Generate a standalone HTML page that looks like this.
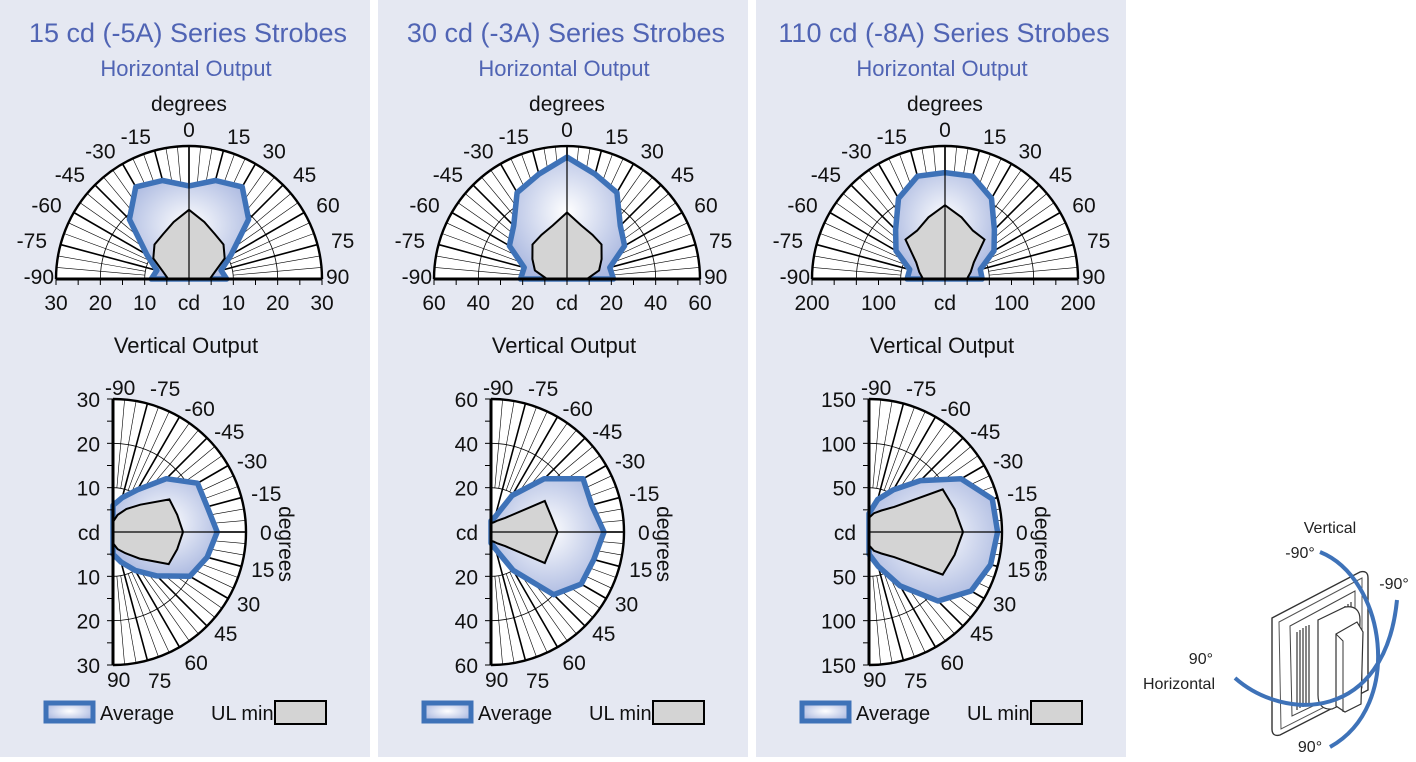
<!DOCTYPE html>
<html><head><meta charset="utf-8">
<style>
html,body{margin:0;padding:0;background:#fff;}
svg{display:block;font-family:"Liberation Sans",Arial,sans-serif;}
</style></head>
<body>
<svg id="chart" width="1416" height="762" viewBox="0 0 1416 762" xmlns="http://www.w3.org/2000/svg">
<defs>
<radialGradient id="hg" cx="0.5" cy="0.45" r="0.6">
<stop offset="0" stop-color="#ffffff"/><stop offset="1" stop-color="#aab8e0"/>
</radialGradient>
<radialGradient id="lg" cx="0.5" cy="0.45" r="0.6">
<stop offset="0" stop-color="#ffffff"/><stop offset="1" stop-color="#aab8e0"/>
</radialGradient>
</defs>
<g id="panels"></g>
<g id="device">
<path d="M1272,618 L1360,572 Q1368,570 1368,578 L1368,690 L1280,735 Q1272,737 1272,729 Z" fill="#fff" stroke="#333" stroke-width="1.4"/>
<path d="M1279,622 L1362,578 L1362,688 L1281,729 Z" fill="#fff" stroke="#555" stroke-width="1"/>
<path d="M1290,626 L1355,591 L1355,686 L1292,716 Z" fill="#fff" stroke="#444" stroke-width="1"/>
<g stroke="#333" stroke-width="1.2">
<line x1="1297" y1="632" x2="1297" y2="710"/><line x1="1300" y1="630" x2="1300" y2="708"/><line x1="1303" y1="628" x2="1303" y2="707"/><line x1="1306" y1="626" x2="1306" y2="705"/><line x1="1309" y1="625" x2="1309" y2="704"/>
<line x1="1345" y1="606" x2="1345" y2="620"/><line x1="1348" y1="604" x2="1348" y2="618"/><line x1="1351" y1="602" x2="1351" y2="616"/>
</g>
<path d="M1318,620 L1345,607 Q1360,605 1360,620 L1358,697 L1332,709 Q1318,710 1318,695 Z" fill="#fff" stroke="#333" stroke-width="1.2"/>
<path d="M1336,634 L1357,622 L1363,632 L1361,704 L1345,712 L1336,706 Z" fill="#fff" stroke="#333" stroke-width="1.2"/>
<path d="M1336,634 L1343,641 L1343,712" fill="none" stroke="#333" stroke-width="1"/>
<path d="M1320,552 C1385,578 1405,705 1330,747" fill="none" stroke="#3e72b8" stroke-width="4"/>
<path d="M1235,678 C1285,722 1385,722 1397,600" fill="none" stroke="#3e72b8" stroke-width="4"/>
<text x="1330" y="533" font-size="16" text-anchor="middle" fill="#222">Vertical</text>
<text x="1300" y="558" font-size="16" text-anchor="middle" fill="#222">-90°</text>
<text x="1394" y="589" font-size="16" text-anchor="middle" fill="#222">-90°</text>
<text x="1213" y="664" font-size="16" text-anchor="end" fill="#222">90°</text>
<text x="1215" y="689" font-size="16" text-anchor="end" fill="#222">Horizontal</text>
<text x="1310" y="752" font-size="16" text-anchor="middle" fill="#222">90°</text>
</g>
</svg>
<script>
const titles = ["15 cd (-5A) Series Strobes", "30 cd (-3A) Series Strobes", "110 cd (-8A) Series Strobes"];
const maxCd = [30, 60, 200];
const hTicks = [[10, 20, 30], [20, 40, 60], [100, 200]];
const vMax = [30, 60, 150];
const vTicks = [[10, 20, 30], [20, 40, 60], [50, 100, 150]];
const angles = [-90, -75, -60, -45, -30, -15, 0, 15, 30, 45, 60, 75, 90];
// Horizontal output, cd at each angle
const hAvg1 = [8.5, 7.5, 11, 19, 24, 23, 21, 23, 24, 19, 11, 7.5, 8.5];
const hMin1 = [4.7, 6, 9.3, 11, 11.7, 13.3, 15.6, 13.3, 11.7, 11, 9.3, 6, 4.7];
const hAvg2 = [21, 20, 30, 34, 45, 49, 55, 49, 45, 34, 30, 20, 21];
const hMin2 = [9, 15, 18, 22, 23, 25, 30, 25, 23, 22, 18, 15, 9];
const hAvg3 = [57, 55, 85, 105, 140, 160, 160, 160, 140, 105, 85, 55, 56];
const hMin3 = [33, 40, 50, 84, 84, 96, 111, 96, 84, 84, 50, 40, 33];
// Vertical output, cd at each angle (-90 up, 90 down)
const vAvg1 = [6, 8, 11, 17, 22, 22, 23.5, 22, 20, 14, 10, 7, 5];
const vMin1 = [2.3, 4, 6, 8.7, 14.7, 15, 15.8, 15, 14.5, 8.5, 5.5, 4, 2.5];
const vAvg2 = [5, 7, 19, 34, 48, 47, 51, 48, 47, 40, 20, 8, 5];
const vMin2 = [4, 4.5, 6, 9, 28, 28, 30, 28, 28, 9, 6, 4.5, 4];
const vAvg3 = [21, 38, 55, 82, 120, 144, 145, 142, 133, 110, 70, 40, 25];
const vMin3 = [16, 22, 28, 40, 96, 100, 106, 100, 96, 40, 28, 22, 15];
const hAvgs = [hAvg1, hAvg2, hAvg3], hMins = [hMin1, hMin2, hMin3];
const vAvgs = [vAvg1, vAvg2, vAvg3], vMins = [vMin1, vMin2, vMin3];

const NS = "http://www.w3.org/2000/svg";
const R = 133;
const FS = 21;
function mk(tag, attrs, parent, txt) {
  const e = document.createElementNS(NS, tag);
  for (const k in attrs) e.setAttribute(k, attrs[k]);
  if (txt !== undefined) e.textContent = txt;
  parent.appendChild(e);
  return e;
}
function hPt(cx, cy, r, a) { const t = a * Math.PI / 180; return [cx + r * Math.sin(t), cy - r * Math.cos(t)]; }
function vPt(cx, cy, r, a) { const t = a * Math.PI / 180; return [cx + r * Math.cos(t), cy + r * Math.sin(t)]; }

const root = document.getElementById('panels');
for (let p = 0; p < 3; p++) {
  const ox = p * 378;
  const g = mk('g', {}, root);
  
  
  const bg = mk('rect', {x: ox, y: 0, width: 370, height: 757, fill: '#e5e8f2'}, g);
  
  
  const tt = mk('text', {x: ox + 188, y: 42, 'font-size': 27, 'text-anchor': 'middle', fill: '#5064b4'}, g, titles[p]);
  
  
  const st = mk('text', {x: ox + 186, y: 76, 'font-size': 22, 'text-anchor': 'middle', fill: '#5064b4'}, g, 'Horizontal Output');
  
  

  // ---------- Horizontal chart ----------
  const cx = ox + 189, cy = 279;
  const sc = R / maxCd[p];
  const hg = mk('g', {}, g);
  
  
  mk('path', {d: `M${cx - R},${cy} A${R},${R} 0 0 1 ${cx + R},${cy} Z`, fill: '#fff'}, hg);
  for (let a = -85; a <= 85; a += 5) {
    const major = a % 15 === 0;
    const r0 = major ? 0 : R / 3;
    const [x0, y0] = hPt(cx, cy, r0, a);
    const [x, y] = hPt(cx, cy, R, a);
    mk('line', {x1: x0, y1: y0, x2: x, y2: y, stroke: '#000', 'stroke-width': major ? 1.6 : 0.6}, hg);
  }
  [1/3, 2/3].forEach(f => {
    mk('path', {d: `M${cx - R * f},${cy} A${R * f},${R * f} 0 0 1 ${cx + R * f},${cy}`, fill: 'none', stroke: '#000', 'stroke-width': 0.8}, hg);
  });
  const ptsH = (arr) => arr.map((v, i) => hPt(cx, cy, v * sc, angles[i]).map(n => n.toFixed(1)).join(',')).join(' ');
  const ha = mk('polygon', {points: ptsH(hAvgs[p]), fill: 'url(#hg)', stroke: '#3e72b8', 'stroke-width': 5.5, 'stroke-linejoin': 'round'}, hg);
  
  
  const hm = mk('polygon', {points: ptsH(hMins[p]), fill: '#d4d4d4', stroke: '#000', 'stroke-width': 2}, hg);
  
  
  mk('line', {x1: cx, y1: cy, x2: cx, y2: cy - R, stroke: '#000', 'stroke-width': 1.2}, hg);
  mk('path', {d: `M${cx - R},${cy} A${R},${R} 0 0 1 ${cx + R},${cy}`, fill: 'none', stroke: '#000', 'stroke-width': 2.4}, hg);
  mk('line', {x1: cx - R, y1: cy, x2: cx + R, y2: cy, stroke: '#000', 'stroke-width': 3}, hg);
  for (let v = 0; v <= maxCd[p] + 0.01; v += maxCd[p] / 6) {
    [-1, 1].forEach(s => mk('line', {x1: cx + s * v * sc, y1: cy, x2: cx + s * v * sc, y2: cy + 6, stroke: '#000', 'stroke-width': 1}, hg));
  }
  hTicks[p].forEach(v => {
    [-1, 1].forEach(s => {
      const t = mk('text', {x: cx + s * v * sc, y: cy + 31, 'font-size': FS, 'text-anchor': 'middle', fill: '#111'}, hg, String(v));
      
      
    });
  });
  const cdl = mk('text', {x: cx, y: cy + 31, 'font-size': FS, 'text-anchor': 'middle', fill: '#111'}, hg, 'cd');
  
  
  const dg = mk('text', {x: cx, y: 111, 'font-size': FS, 'text-anchor': 'middle', fill: '#111'}, hg, 'degrees');
  
  
  for (let a = -90; a <= 90; a += 15) {
    let [x, y] = hPt(cx, cy, R + 14, a);
    let anchor = a < 0 ? 'end' : (a > 0 ? 'start' : 'middle');
    if (a === 0) { y -= 2; }
    if (Math.abs(a) === 90) { x = cx + (a < 0 ? -R - 2 : R + 4); y = cy - 2; }
    const t = mk('text', {x: x, y: y + 7, 'font-size': FS, 'text-anchor': anchor, fill: '#111'}, hg, String(a));
    
    
  }

  // ---------- Vertical chart ----------
  const vt = mk('text', {x: ox + 186, y: 353, 'font-size': 22, 'text-anchor': 'middle', fill: '#111'}, g, 'Vertical Output');
  
  
  const vx = ox + 113, vy = 532;
  const vs = R / vMax[p];
  const vg = mk('g', {}, g);
  
  
  mk('path', {d: `M${vx},${vy - R} A${R},${R} 0 0 1 ${vx},${vy + R} Z`, fill: '#fff'}, vg);
  for (let a = -85; a <= 85; a += 5) {
    const major = a % 15 === 0;
    const r0 = major ? 0 : R / 3;
    const [x0, y0] = vPt(vx, vy, r0, a);
    const [x, y] = vPt(vx, vy, R, a);
    mk('line', {x1: x0, y1: y0, x2: x, y2: y, stroke: '#000', 'stroke-width': major ? 1.6 : 0.6}, vg);
  }
  [1/3, 2/3].forEach(f => {
    mk('path', {d: `M${vx},${vy - R * f} A${R * f},${R * f} 0 0 1 ${vx},${vy + R * f}`, fill: 'none', stroke: '#000', 'stroke-width': 0.8}, vg);
  });
  const ptsV = (arr) => arr.map((v, i) => vPt(vx, vy, v * vs, angles[i]).map(n => n.toFixed(1)).join(',')).join(' ');
  const va = mk('polygon', {points: ptsV(vAvgs[p]), fill: 'url(#hg)', stroke: '#3e72b8', 'stroke-width': 5.5, 'stroke-linejoin': 'round'}, vg);
  
  
  const vm = mk('polygon', {points: ptsV(vMins[p]), fill: '#d4d4d4', stroke: '#000', 'stroke-width': 2}, vg);
  
  
  mk('line', {x1: vx, y1: vy, x2: vx + R, y2: vy, stroke: '#000', 'stroke-width': 1.2}, vg);
  mk('path', {d: `M${vx},${vy - R} A${R},${R} 0 0 1 ${vx},${vy + R}`, fill: 'none', stroke: '#000', 'stroke-width': 2.4}, vg);
  mk('line', {x1: vx, y1: vy - R, x2: vx, y2: vy + R, stroke: '#000', 'stroke-width': 3}, vg);
  for (let v = vMax[p] / 6; v <= vMax[p] + 0.01; v += vMax[p] / 6) {
    [-1, 1].forEach(s => mk('line', {x1: vx - 6, y1: vy + s * v * vs, x2: vx, y2: vy + s * v * vs, stroke: '#000', 'stroke-width': 1}, vg));
  }
  vTicks[p].forEach(v => {
    [-1, 1].forEach(s => {
      const t = mk('text', {x: vx - 13, y: vy + s * v * vs + 8, 'font-size': FS, 'text-anchor': 'end', fill: '#111'}, vg, String(v));
      
      
    });
  });
  const vcd = mk('text', {x: vx - 13, y: vy + 8, 'font-size': FS, 'text-anchor': 'end', fill: '#111'}, vg, 'cd');
  
  
  const vdg = mk('text', {x: 0, y: 0, 'font-size': FS, 'text-anchor': 'middle', fill: '#111', transform: `translate(${vx + 166},${vy + 12}) rotate(90)`}, vg, 'degrees');
  
  
  for (let a = -90; a <= 90; a += 15) {
    let [x, y] = vPt(vx, vy, R + 10, a);
    let anchor = 'start';
    if (a === -90) { x = vx - 8; y = vy - R - 12; }
    if (a === 90) { x = vx - 6; y = vy + R + 14; }
    if (a === -75) { x += 0; y -= 6; }
    if (a === 75) { x -= 2; y += 10; }
    if (a === 60) { y += 6; }
    if (a === -15) { y -= 2; }
    if (a === 0) { x += 4; }
    const t = mk('text', {x: x, y: y + 8, 'font-size': FS, 'text-anchor': anchor, fill: '#111'}, vg, String(a));
    
    
  }

  // ---------- Legend ----------
  const lg = mk('g', {}, g);
  
  
  const lb = mk('rect', {x: ox + 46, y: 703, width: 47, height: 18, fill: 'url(#lg)', stroke: '#3e72b8', 'stroke-width': 5}, lg);
  
  
  const la = mk('text', {x: ox + 100, y: 720, 'font-size': 20, fill: '#111'}, lg, 'Average');
  
  
  const lu = mk('text', {x: ox + 211, y: 720, 'font-size': 20, fill: '#111'}, lg, 'UL min');
  
  
  const lr = mk('rect', {x: ox + 275, y: 701, width: 51, height: 23, fill: '#d4d4d4', stroke: '#000', 'stroke-width': 2}, lg);
  
  
}
</script>
</body></html>
